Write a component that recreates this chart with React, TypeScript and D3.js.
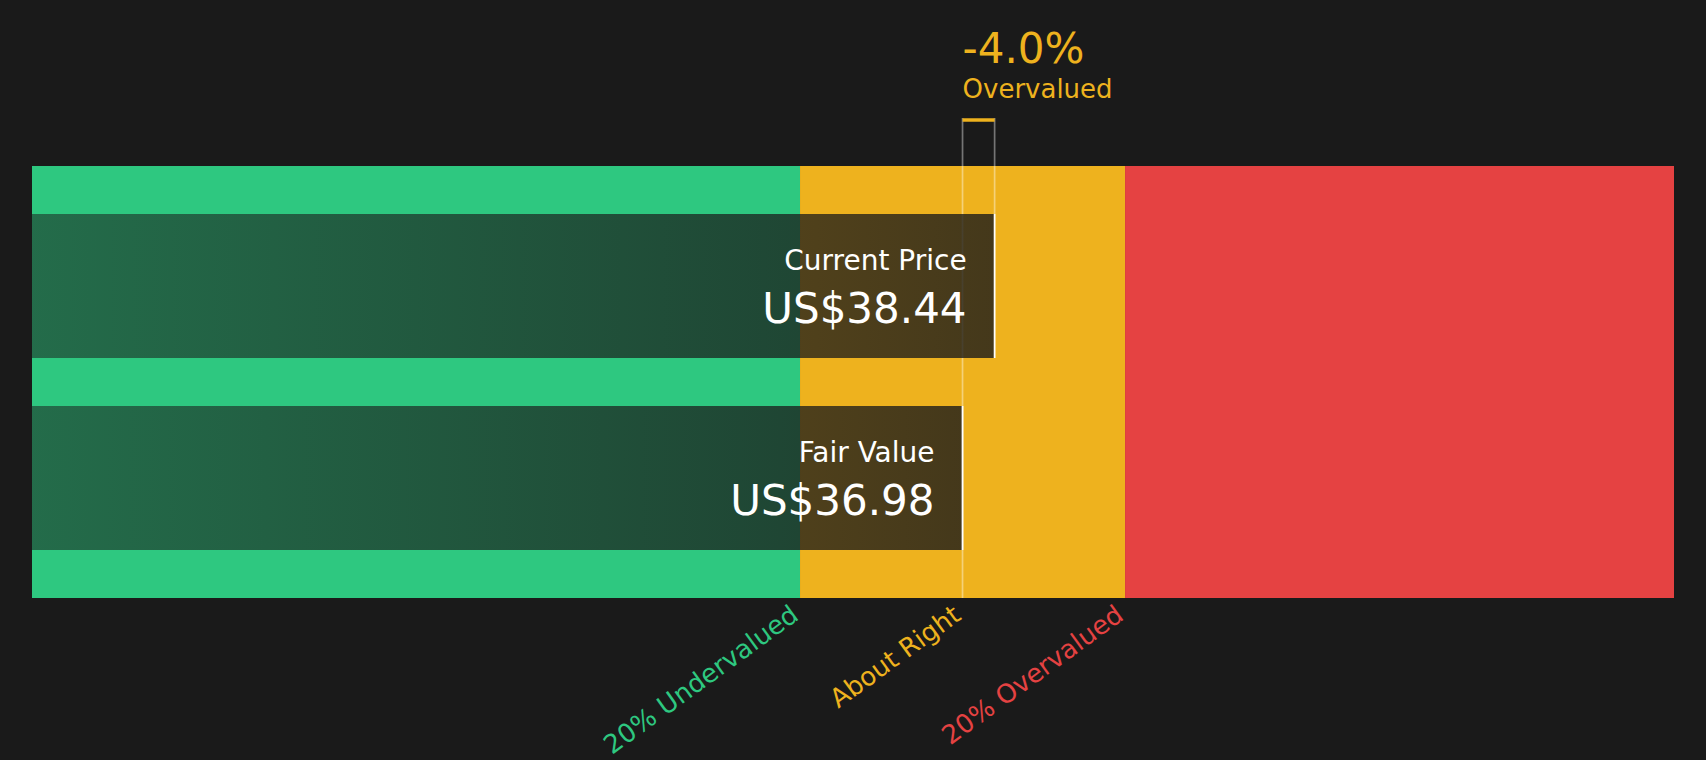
import { useEffect, useRef } from 'react';
import * as d3 from 'd3';

// valuation data
const priceLabels = ['Current Price', 'Fair Value'];
const priceValues = [38.44, 36.98];
const fairValue = 36.98;
const headlinePct = -4.0;
const headlineText = 'Overvalued';
const zoneNames = ['20% Undervalued', 'About Right', '20% Overvalued'];
const zoneMultiples = [0.8, 1.0, 1.2]; // where each zone label sits, x fair value
const scaleDomain = [-5.37, 69.36];

const zoneColors = ['#2ec880', '#eeb21e', '#e54242'];

export default function App() {
  const svgRef = useRef<SVGSVGElement>(null);

  useEffect(() => {
    if (!svgRef.current) return;
    const width = 1706;
    const height = 760;
    const barTop = 166;
    const barBottom = 598;
    const font = '"DejaVu Sans", sans-serif';

    const svg = d3.select(svgRef.current);
    svg.selectAll('*').remove();
    svg.attr('width', width).attr('height', height);

    svg.append('rect').attr('width', width).attr('height', height).attr('fill', '#1a1a1a');

    const x = d3.scaleLinear().domain(scaleDomain).range([32, 1674]);
    const y = d3.scaleBand<string>()
      .domain(priceLabels)
      .range([barTop, barBottom])
      .paddingInner(0.25)
      .paddingOuter(0.25);

    const defs = svg.append('defs');
    const grad = defs.append('linearGradient').attr('id', 'fade')
      .attr('x1', '0%').attr('x2', '100%').attr('y1', '0%').attr('y2', '0%');
    grad.append('stop').attr('offset', '0%').attr('stop-color', '#1a1a1a').attr('stop-opacity', 0.53);
    grad.append('stop').attr('offset', '100%').attr('stop-color', '#1a1a1a').attr('stop-opacity', 0.8);

    // Zones
    const edges = [scaleDomain[0], fairValue * 0.8, fairValue * 1.2, scaleDomain[1]];
    svg.selectAll('.zone')
      .data(zoneColors)
      .join('rect')
      .attr('x', (_, i) => x(edges[i]))
      .attr('y', barTop)
      .attr('width', (_, i) => x(edges[i + 1]) - x(edges[i]))
      .attr('height', barBottom - barTop)
      .attr('fill', (d) => d);

    const cp = priceValues[0];
    const fv = priceValues[1];

    // Bracket guide lines
    svg.append('line')
      .attr('x1', x(fv)).attr('x2', x(fv))
      .attr('y1', 118).attr('y2', barBottom)
      .attr('stroke', '#ffffff').attr('stroke-opacity', 0.4).attr('stroke-width', 1.7);
    svg.append('line')
      .attr('x1', x(cp)).attr('x2', x(cp))
      .attr('y1', 118).attr('y2', y(priceLabels[0])!)
      .attr('stroke', '#ffffff').attr('stroke-opacity', 0.4).attr('stroke-width', 1.7);
    svg.append('line')
      .attr('x1', x(fv)).attr('x2', x(cp))
      .attr('y1', 120).attr('y2', 120)
      .attr('stroke', '#eeb21e').attr('stroke-width', 3.4);

    // Price bars
    svg.selectAll('.price')
      .data(priceValues)
      .join('rect')
      .attr('x', x(scaleDomain[0]))
      .attr('y', (_, i) => y(priceLabels[i])!)
      .attr('width', (d) => x(d) - x(scaleDomain[0]))
      .attr('height', y.bandwidth())
      .attr('fill', 'url(#fade)');

    svg.selectAll('.price-end')
      .data(priceValues)
      .join('line')
      .attr('x1', (d) => x(d)).attr('x2', (d) => x(d))
      .attr('y1', (_, i) => y(priceLabels[i])!)
      .attr('y2', (_, i) => y(priceLabels[i])! + y.bandwidth())
      .attr('stroke', '#ffffff').attr('stroke-width', 1.8);

    svg.selectAll('.price-label')
      .data(priceValues)
      .join('text')
      .attr('x', (d) => x(d) - 28)
      .attr('y', (_, i) => y(priceLabels[i])! + 56)
      .attr('text-anchor', 'end')
      .attr('fill', '#ffffff')
      .attr('font-family', font)
      .attr('font-size', 28)
      .text((_, i) => priceLabels[i]);

    svg.selectAll('.price-value')
      .data(priceValues)
      .join('text')
      .attr('x', (d) => x(d) - 28)
      .attr('y', (_, i) => y(priceLabels[i])! + 109)
      .attr('text-anchor', 'end')
      .attr('fill', '#ffffff')
      .attr('font-family', font)
      .attr('font-size', 42)
      .text((d) => `US$${d.toFixed(2)}`);

    // Headline
    svg.append('text')
      .attr('x', x(fv)).attr('y', 62.5)
      .attr('fill', '#eeb21e').attr('font-family', font).attr('font-size', 42)
      .text(`${headlinePct.toFixed(1)}%`);
    svg.append('text')
      .attr('x', x(fv)).attr('y', 98)
      .attr('fill', '#eeb21e').attr('font-family', font).attr('font-size', 26)
      .text(headlineText);

    // Zone labels
    svg.selectAll('.zone-label')
      .data(zoneNames)
      .join('text')
      .attr('transform', (_, i) => `translate(${x(fairValue * zoneMultiples[i])},618.5) rotate(-36)`)
      .attr('text-anchor', 'end')
      .attr('fill', (_, i) => zoneColors[i])
      .attr('font-family', font)
      .attr('font-size', 26)
      .text((d) => d);
  }, []);

  return (
    <div style={{ position: 'absolute', left: 0, top: 0 }}>
      <svg ref={svgRef} style={{ display: 'block' }} />
    </div>
  );
}
